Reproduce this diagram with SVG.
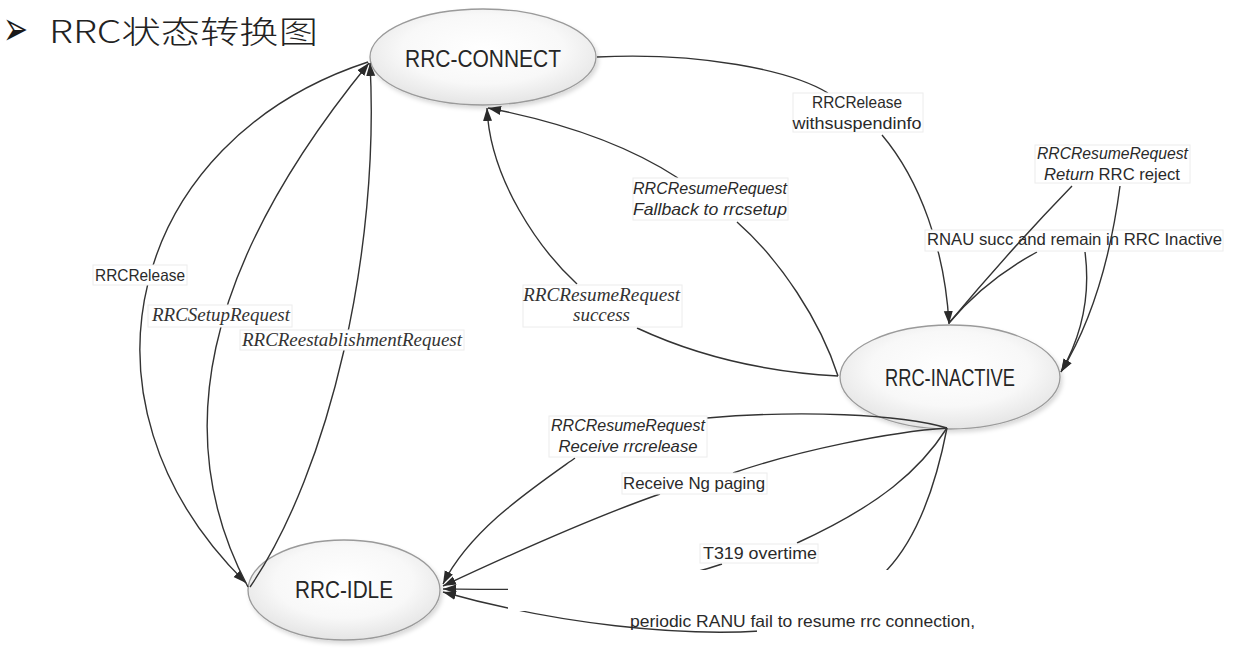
<svg xmlns="http://www.w3.org/2000/svg" width="1247" height="653" viewBox="0 0 1247 653">
<style>
.edge{fill:none;stroke:#333;stroke-width:1.4;}
.node{fill:url(#ng);stroke:#9a9a9a;stroke-width:1.3;filter:url(#sh);}
.ntxt{font-family:"Liberation Sans",Arial,sans-serif;font-size:24px;fill:#262626;text-anchor:middle;}
.lbox{fill:#fff;stroke:#ececec;stroke-width:1;}
.sans{font-family:"Liberation Sans",Arial,sans-serif;font-size:16.5px;fill:#2a2a2a;}
.sansi{font-family:"Liberation Sans",Arial,sans-serif;font-size:16.5px;font-style:italic;fill:#2a2a2a;}
.seri{font-family:"Liberation Serif","Times New Roman",serif;font-size:18px;font-style:italic;fill:#333;}
.mid{text-anchor:middle;}
</style>
<defs>
<radialGradient id="ng" cx="50%" cy="42%" r="60%">
<stop offset="0" stop-color="#ffffff"/>
<stop offset="0.6" stop-color="#f8f8f8"/>
<stop offset="1" stop-color="#e3e3e3"/>
</radialGradient>
<filter id="sh" x="-10%" y="-10%" width="125%" height="130%">
<feDropShadow dx="2" dy="3" stdDeviation="2" flood-color="#000" flood-opacity="0.15"/>
</filter>
<marker id="arr" markerUnits="userSpaceOnUse" markerWidth="14" markerHeight="10" refX="13" refY="5" orient="auto">
<path d="M0,0.5 L13,5 L0,9.5 z" fill="#2a2a2a"/>
</marker>
</defs>
<rect width="1247" height="653" fill="#fff"/>

<g id="title">
<text x="3" y="45" font-family="DejaVu Sans,sans-serif" font-size="48" fill="#1a1a1a" textLength="25" lengthAdjust="spacingAndGlyphs">➢</text>
<text x="49" y="43" font-family="'Noto Sans CJK SC',sans-serif" font-size="31" font-weight="300" fill="#222" textLength="269" lengthAdjust="spacingAndGlyphs">RRC状态转换图</text>
</g>

<g id="node-connect">
<ellipse class="node" cx="483" cy="57" rx="113" ry="48"/>
<text class="ntxt" x="483" y="67" textLength="156" lengthAdjust="spacingAndGlyphs">RRC-CONNECT</text>
</g>
<g id="node-inactive">
<ellipse class="node" cx="950" cy="377" rx="110" ry="52"/>
<text class="ntxt" x="950" y="386" textLength="130" lengthAdjust="spacingAndGlyphs">RRC-INACTIVE</text>
</g>
<g id="node-idle">
<ellipse class="node" cx="344" cy="590" rx="96" ry="50"/>
<text class="ntxt" x="344" y="598" textLength="98" lengthAdjust="spacingAndGlyphs">RRC-IDLE</text>
</g>

<g id="connectors">
<path class="edge" marker-end="url(#arr)" d="M368,62 C130,140 60,400 246,583"/>
<path class="edge" marker-end="url(#arr)" d="M248,587 C170,440 200,270 369,63"/>
<path class="edge" marker-end="url(#arr)" d="M250,587 C330,470 380,250 370,63"/>
<path class="edge" marker-end="url(#arr)" d="M597,57 C700,52 790,70 828,93 M882,135 C920,180 945,250 949,324"/>
<path class="edge" marker-end="url(#arr)" d="M838,376 C820,320 780,260 737,222 M678,178 C620,140 550,120 488,108"/>
<path class="edge" marker-end="url(#arr)" d="M838,376 C765,372 695,355 637,328 M577,284 C540,250 490,180 487,108"/>
<path class="edge" marker-end="url(#arr)" d="M1037,252 Q985,280 949,323 M1085,252 C1090,290 1085,330 1061,372"/>
<path class="edge" marker-end="url(#arr)" d="M947,428 C900,414 800,410 707,418 M575,458 C530,490 470,530 443,584"/>
<path class="edge" marker-end="url(#arr)" d="M947,428 C890,432 800,450 733,473 M660,494 C600,515 520,550 443,586"/>
<path class="edge" marker-end="url(#arr)" d="M947,428 C920,470 880,505 797,543 M722,564 C640,592 560,590 443,589"/>
<path class="edge" marker-end="url(#arr)" d="M947,428 C935,490 915,540 887,570 C860,600 810,628 760,631 C680,636 560,625 443,592"/>
</g>

<g id="occluders" fill="#fff">
<rect x="508" y="570" width="480" height="41"/>
<rect x="757" y="611" width="228" height="31"/>
</g>

<g id="label-rrcrelease-left">
<rect class="lbox" x="93" y="265" width="94" height="20"/>
<text class="sans" x="95" y="281" textLength="90" lengthAdjust="spacingAndGlyphs">RRCRelease</text>
</g>
<g id="label-setup">
<rect class="lbox" x="148" y="305" width="144" height="22"/>
<text class="seri" x="152" y="321" textLength="138" lengthAdjust="spacingAndGlyphs">RRCSetupRequest</text>
</g>
<g id="label-reest">
<rect class="lbox" x="240" y="330" width="224" height="20"/>
<text class="seri" x="242" y="346" textLength="220" lengthAdjust="spacingAndGlyphs">RRCReestablishmentRequest</text>
</g>
<g id="label-suspend">
<rect class="lbox" x="793" y="93" width="130" height="39"/>
<text class="sans mid" x="857" y="108" textLength="90" lengthAdjust="spacingAndGlyphs">RRCRelease</text>
<text class="sans mid" x="857" y="129" textLength="129" lengthAdjust="spacingAndGlyphs">withsuspendinfo</text>
</g>
<g id="label-fallback">
<rect class="lbox" x="633" y="178" width="155" height="42"/>
<text class="sansi mid" x="710" y="194" textLength="154" lengthAdjust="spacingAndGlyphs">RRCResumeRequest</text>
<text class="sansi mid" x="710" y="215" textLength="154" lengthAdjust="spacingAndGlyphs">Fallback to rrcsetup</text>
</g>
<g id="label-success">
<rect class="lbox" x="523" y="285" width="159" height="42"/>
<text class="seri mid" x="601.5" y="301" textLength="157" lengthAdjust="spacingAndGlyphs">RRCResumeRequest</text>
<text class="seri mid" x="601.5" y="321" textLength="57" lengthAdjust="spacingAndGlyphs">success</text>
</g>
<g id="label-return">
<rect class="lbox" x="1035" y="145" width="155" height="38"/>
<text class="sansi mid" x="1112.5" y="159" textLength="151" lengthAdjust="spacingAndGlyphs">RRCResumeRequest</text>
<text class="sans mid" x="1112" y="180" textLength="136" lengthAdjust="spacingAndGlyphs"><tspan font-style="italic">Return</tspan> RRC reject</text>
</g>
<g id="label-rnau">
<rect class="lbox" x="925" y="230" width="298" height="21"/>
<text class="sans" x="927" y="245" textLength="295" lengthAdjust="spacingAndGlyphs">RNAU succ and remain in RRC Inactive</text>
</g>
<g id="label-rrcrelease">
<rect class="lbox" x="549" y="416" width="158" height="41"/>
<text class="sansi mid" x="628" y="431" textLength="154" lengthAdjust="spacingAndGlyphs">RRCResumeRequest</text>
<text class="sansi mid" x="628" y="452" textLength="139" lengthAdjust="spacingAndGlyphs">Receive rrcrelease</text>
</g>
<g id="label-ng">
<rect class="lbox" x="622" y="473" width="145" height="21"/>
<text class="sans" x="623" y="489" textLength="142" lengthAdjust="spacingAndGlyphs">Receive Ng paging</text>
</g>
<g id="label-t319">
<rect class="lbox" x="700" y="544" width="118" height="19"/>
<text class="sans" x="703" y="559" textLength="114" lengthAdjust="spacingAndGlyphs">T319 overtime</text>
</g>
<g id="label-periodic">
<text class="sans" x="630" y="627" textLength="345" lengthAdjust="spacingAndGlyphs">periodic RANU fail to resume rrc connection,</text>
</g>

<g id="connectors-front">
<path class="edge" marker-end="url(#arr)" d="M1072,186 Q1010,250 949,323 M1120,186 Q1105,300 1061,372"/>
</g>
</svg>
